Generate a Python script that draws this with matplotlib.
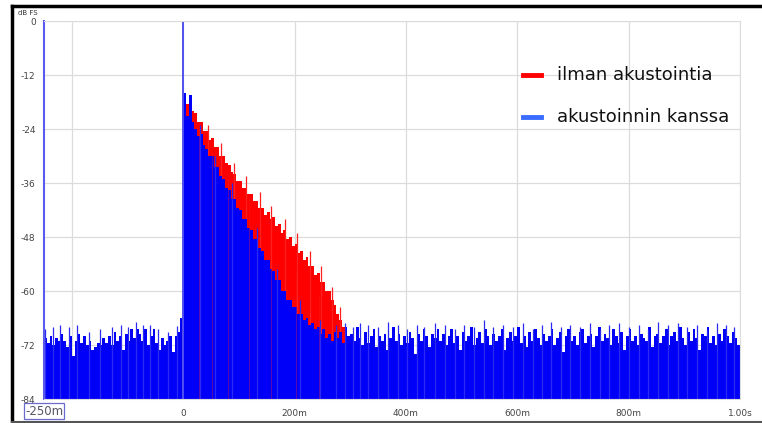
import numpy as np
import matplotlib
matplotlib.use("Agg")
import matplotlib.pyplot as plt
from matplotlib.lines import Line2D

# aika-akseli: 5 ms palkit, -250 ms ... 1000 ms
step_ms = 5
start_ms = -250
end_ms = 1000

# akustoinnin kanssa (sininen), dB FS, yksi arvo / 5 ms
blue_pre = [-70.5, -71.5, -70, -72, -70.5, -71, -69.5, -71, -72.5, -70,
            -74.5, -71, -69.5, -71.5, -70, -72, -71, -73, -72.5, -71.5,
            -72, -70.5, -71.5, -70, -72, -69, -71, -70, -73, -69.5,
            -71, -68.5, -70.5, -68.5, -69.5, -71, -68.5, -72, -70, -68.5,
            -71.5, -73, -70.5, -72, -71, -70, -73.5, -70, -69, -66]
blue_decay = [-16, -21, -16.5, -22.5, -24, -25.5, -25, -27.5, -28.5, -30,
              -30, -32.5, -32.5, -34.5, -35, -37, -37.5, -39.5, -39.5, -41.5,
              -42, -44, -44, -46, -46.5, -48.5, -48.5, -50.5, -51, -53,
              -53, -55, -55.5, -57.5, -57.5, -60, -60, -62, -62, -63.5,
              -63.5, -65, -65, -66.5, -66, -67.5, -67, -68.5, -68, -69.5,
              -68.5, -70.5, -69.5, -71, -69, -70.5, -69, -71.5, -68, -70]
blue_tail = [-69.5, -71, -68, -70.5, -72, -69, -71.5, -70, -68.5, -72.5,
             -70, -71, -69.5, -73, -70.5, -68, -71, -69.5, -72, -70,
             -71.5, -69, -70.5, -74, -69.5, -71, -68.5, -70, -72.5, -69.5,
             -70.5, -68.5, -71, -69.5, -72, -70, -68.5, -71.5, -70, -73,
             -69, -71, -70, -68, -72, -70.5, -69, -71.5, -68.5, -70,
             -72, -69.5, -71, -70, -68.5, -73, -70.5, -69, -71, -70,
             -68, -71.5, -70, -72.5, -69, -71, -68.5, -70.5, -72, -69.5,
             -71, -70, -68.5, -72, -70.5, -69, -73.5, -70, -68.5, -71,
             -70, -72, -69, -68.5, -71.5, -70, -69.5, -72.5, -70, -68,
             -71, -69.5, -70.5, -72, -68.5, -70, -71.5, -69, -73, -70,
             -68.5, -71, -70, -72, -69.5, -70.5, -71, -68, -72.5, -70,
             -69.5, -71.5, -70, -68.5, -72, -70, -69, -71, -68, -70.5,
             -72, -69, -71, -68.5, -70.5, -73, -69.5, -70, -68, -71.5,
             -70, -72, -69.5, -71, -68.5, -70, -71.5, -69, -70.5, -72]

# ilman akustointia (punainen), 0 ... 300 ms
red_decay = [-16, -18.5, -17, -20, -20.5, -22.5, -22.5, -24.5, -24.5, -26.5,
             -26, -28, -28, -30, -30, -31.5, -32, -33.5, -34, -35.5,
             -35.5, -37, -37, -38.5, -38.5, -40, -40, -41.5, -41.5, -43,
             -42.5, -44, -43.5, -45.5, -45, -47, -46.5, -48.5, -48, -50,
             -49.5, -51.5, -51, -53, -52.5, -54.5, -54.5, -56.5, -56, -58,
             -58, -60, -60, -62, -63, -65, -66.5, -68, -69.5, -71]
red_end_ms = 300

# ohuet piikit
blue_spike_ms = [-248, -233, -222, -205, -190, -170, -150, -128, -112, -100,
                 -84, -72, -60, -45, -28, -12,
                 30, 58, 88, 132, 168, 210, 245, 275, 290,
                 305, 318, 332, 350, 368, 385, 402, 420, 433, 452,
                 470, 488, 505, 522, 540, 556, 575, 592, 610, 628,
                 645, 660, 678, 695, 712, 730, 748, 765, 782, 800,
                 818, 835, 852, 870, 888, 905, 922, 940, 958, 975, 990]
blue_spike_db = [-68.5, -68, -67.5, -68, -67.5, -69, -68.5, -68, -67.5, -68,
                 -66.8, -67.5, -67.5, -68.5, -69, -67.8,
                 -23, -30, -36, -46, -55, -62, -66.5, -67.5, -67,
                 -68, -67, -67.5, -68, -66.8, -67.5, -68.5, -67.5, -68, -67,
                 -67.5, -68.5, -67.5, -68, -66.5, -68, -67.5, -68, -67, -68.5,
                 -67.5, -66.8, -68, -67.5, -68, -67, -68.5, -67.5, -67, -68,
                 -67.5, -68.5, -66.8, -67.5, -67, -68, -67.5, -68.5, -67, -67.5, -68]
red_spike_ms = [45, 68, 92, 112, 138, 158, 182, 205, 228, 248, 268, 282]
red_spike_db = [-23, -27, -31.5, -34.5, -38, -41, -44, -47, -51, -54.5, -59, -63.5]

# impulssin piikki
spike_ms = [0]
spike_db = [0]

# kohdat joissa punainen näkyy sinisen läpi
gap_ms = [28, 52, 81, 118, 158, 203, 243]
gap_top = [-24, -29, -35, -39, -49, -56, -61]

series_names = ["ilman akustointia", "akustoinnin kanssa"]
series_colors = ["#ff0000", "#3a6cff"]

y_ticks = [0, -12, -24, -36, -48, -60, -72, -84]
x_ticks = [-200, 0, 200, 400, 600, 800, 1000]
x_labels = ["", "0", "200m", "400m", "600m", "800m", "1.00s"]

blue_vals = np.array(blue_pre + blue_decay + blue_tail)
blue_edges = np.arange(start_ms, end_ms + step_ms, step_ms)
red_vals = np.array(red_decay)
red_edges = np.arange(0, red_end_ms + step_ms, step_ms)

fig = plt.figure(figsize=(7.62, 4.23), dpi=100)
ax = fig.add_axes([44 / 762, 1 - 399 / 423, (740 - 44) / 762, (399 - 21) / 423])

ax.stairs(red_vals, red_edges, baseline=-84, fill=True, color="#ff0000", lw=0, zorder=1.0)
ax.vlines(red_spike_ms, -84, red_spike_db, color="#ff2020", lw=0.9, zorder=1.1)
ax.stairs(blue_vals, blue_edges, baseline=-84, fill=True, color="#0000f8", lw=0, zorder=1.2)
ax.vlines(blue_spike_ms, -84, blue_spike_db, color="#2a2af2", lw=0.9, zorder=1.3)
ax.vlines(gap_ms, -84, gap_top, color="#ff2020", alpha=0.35, lw=0.7, zorder=1.4)
ax.vlines(spike_ms, -84, spike_db, color="#5050f0", lw=1.4, zorder=1.5)

ax.set_xlim(start_ms, end_ms)
ax.set_ylim(-84, 0)
ax.set_yticks(y_ticks)
ax.set_yticklabels([str(v) for v in y_ticks])
ax.set_xticks(x_ticks)
ax.set_xticklabels(x_labels)
ax.tick_params(length=0, labelsize=6.5, colors="#444444", pad=6)
ax.tick_params(axis="x", pad=7)
ax.grid(True, color="#dcdcdc", lw=0.9, zorder=0.5)
ax.set_axisbelow(True)
for side in ["top", "right", "bottom"]:
    ax.spines[side].set_color("#dcdcdc")
ax.spines["left"].set_color("#5a5af0")
ax.spines["left"].set_linewidth(1.5)

fig.text(44 / 762, 1 - 411 / 423, "-250m", ha="center", va="center",
         fontsize=8.5, color="#555566",
         bbox=dict(boxstyle="square,pad=0.12", fc="white", ec="#6a6ad0", lw=0.9))
fig.text(28 / 762, 1 - 13 / 423, "dB FS", fontsize=5, color="#333333", ha="center", va="center")

# selite
leg_y = [75, 117]
for name, col, yy in zip(series_names, series_colors, leg_y):
    fy = 1 - yy / 423
    fig.add_artist(Line2D([523 / 762, 541 / 762], [fy, fy], color=col, lw=3.5,
                          transform=fig.transFigure))
    fig.text(557 / 762, fy, name, fontsize=13, color="#111111", va="center", ha="left")

# kehys
fig.add_artist(Line2D([12 / 762, 1], [1 - 6 / 423] * 2, color="black", lw=2.5, transform=fig.transFigure))
fig.add_artist(Line2D([12 / 762] * 2, [1 - 6 / 423, 1 - 422 / 423], color="black", lw=2.5, transform=fig.transFigure))
fig.add_artist(Line2D([12 / 762, 1], [1 - 422 / 423] * 2, color="#555555", lw=1.5, transform=fig.transFigure))

fig.savefig("out.png", dpi=100)
